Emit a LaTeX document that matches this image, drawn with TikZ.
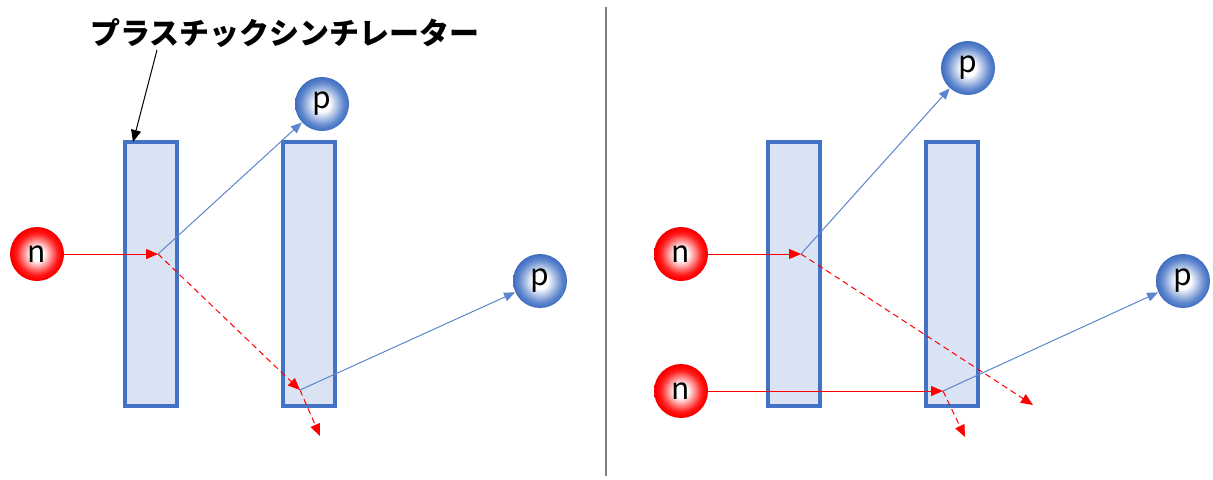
\documentclass[tikz,border=0pt]{standalone}
\usepackage{fontspec}
\newfontfamily\jp{Noto Sans CJK JP}
\usetikzlibrary{arrows.meta}
\definecolor{scfill}{HTML}{DAE3F3}
\definecolor{scdraw}{HTML}{4472C4}
\definecolor{bluec}{HTML}{4472C4}
\definecolor{trkblue}{HTML}{5B85CC}
\pgfdeclareradialshading{redball}{\pgfpoint{0bp}{0bp}}{color(0bp)=(white); color(6bp)=(white); color(12bp)=(red!40); color(19bp)=(red!88); color(23bp)=(red); color(25bp)=(red!94!black); color(50bp)=(red!94!black)}
\pgfdeclareradialshading{blueball}{\pgfpoint{0bp}{0bp}}{color(0bp)=(white); color(7bp)=(white); color(13bp)=(bluec!40); color(20bp)=(bluec!85); color(24bp)=(bluec); color(25bp)=(bluec!94!black); color(50bp)=(bluec!94!black)}
\tikzset{
  scint/.style={draw=scdraw, fill=scfill, line width=1.9pt, minimum width=26pt, minimum height=132pt, inner sep=0pt},
  neutron/.style={circle, shading=redball, minimum size=27pt, inner sep=0pt, font=\jp\fontsize{15pt}{15pt}\selectfont},
  proton/.style={circle, shading=blueball, minimum size=27pt, inner sep=0pt, font=\jp\fontsize{15pt}{15pt}\selectfont},
  ntrack/.style={draw=red, line width=0.5pt, -{Triangle[length=6pt,width=5pt]}, fill=red},
  ndash/.style={draw=red, line width=0.5pt, dash pattern=on 3pt off 2pt, -{Triangle[length=6pt,width=5pt]}},
  ptrack/.style={draw=trkblue, line width=0.5pt, -{Triangle[length=5.5pt,width=4.5pt]}},
  lblarrow/.style={draw=black, line width=0.5pt, -{Triangle[length=6pt,width=5pt]}},
}
\begin{document}
\begin{tikzpicture}[x=0.5pt, y=-0.5pt]
\useasboundingbox (0,0) rectangle (1213,479);
% divider
\draw[draw=gray, line width=0.8pt] (606,7) coordinate (dtop) -- (606,476) coordinate (dbot);
% title
\node[font=\jp\bfseries\fontsize{15pt}{15pt}\selectfont, inner sep=0pt] (title) at (285,33) {プラスチックシンチレーター};
\coordinate (tl) at (157,50);
% left panel
\node[scint] (r1) at (151,274) {};
\node[scint] (r2) at (309,274) {};
\coordinate (tgt) at (133,142);
\draw[lblarrow] (tl) -- (tgt);
\node[neutron] (nL) at (37,254) {n};
\node[proton] (pL1) at (322,104) {p};
\node[proton] (pL2) at (540,281) {p};
\coordinate (A) at (158,254);
\coordinate (B) at (300,390);
\coordinate (C) at (320,436);
\draw[ntrack] (nL) -- (A);
\draw[ptrack] (A) -- (pL1);
\draw[ndash] (A) -- (B);
\draw[ndash] (B) -- (C);
\draw[ptrack] (B) -- (pL2);
% right panel
\node[scint] (r3) at (794,274) {};
\node[scint] (r4) at (952,274) {};
\node[neutron] (nR1) at (681,254) {n};
\node[neutron] (nR2) at (681,391) {n};
\node[proton] (pR1) at (968,68) {p};
\node[proton] (pR2) at (1183,281) {p};
\coordinate (D) at (801,254);
\coordinate (E) at (1033,405);
\coordinate (F) at (943,391);
\coordinate (G) at (965,437);
\draw[ntrack] (nR1) -- (D);
\draw[ptrack] (D) -- (pR1);
\draw[ndash] (D) -- (E);
\draw[ntrack] (nR2) -- (F);
\draw[ptrack] (F) -- (pR2);
\draw[ndash] (F) -- (G);
\end{tikzpicture}
\end{document}
